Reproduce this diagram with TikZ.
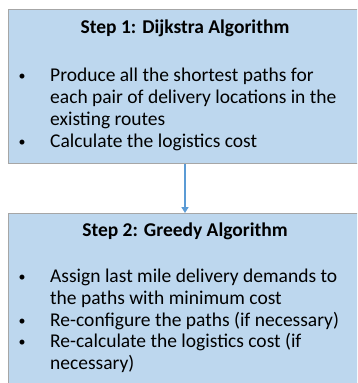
\documentclass[tikz,border=0pt]{standalone}
\usepackage{fontspec}
\setmainfont{Carlito}
\usetikzlibrary{arrows.meta}
\definecolor{boxfill}{HTML}{BDD7EE}
\definecolor{boxline}{HTML}{A6A6A6}
\definecolor{arrowblue}{HTML}{5B9BD5}
\begin{document}
\begin{tikzpicture}[x=1pt,y=-1pt,
  stepbox/.style={draw=boxline, line width=1pt, fill=boxfill, anchor=north west, inner sep=0pt, minimum width=362pt},
  ttl/.style={anchor=base, inner sep=0pt, font=\bfseries\fontsize{19.5}{23}\selectfont},
  txt/.style={anchor=base west, inner sep=0pt, font=\fontsize{19.5}{23}\selectfont},
  bul/.style={anchor=base, inner sep=0pt, font=\fontsize{14}{16}\selectfont},
  flow/.style={draw=arrowblue, line width=2pt, -{Triangle[length=6pt,width=7pt]}}
]
\useasboundingbox (0,0) rectangle (357,383);
\clip (0,0) rectangle (357,383);
\node (box1) [stepbox, minimum height=154pt] at (8,9) {};
\node (box2) [stepbox, minimum height=180pt] at (8,213) {};
% box 1
\node (t1) [ttl] at (185,33) {Step 1: Dijkstra Algorithm};
\node (b11) [bul] at (22,80) {\textbullet};
\node (l11) [txt] at (50,81) {Produce all the shortest paths for};
\node (l12) [txt] at (50,103) {each pair of delivery locations in the};
\node (l13) [txt] at (50,125) {existing routes};
\node (b12) [bul] at (22,146) {\textbullet};
\node (l14) [txt] at (50,147) {Calculate the logistics cost};
% box 2
\node (t2) [ttl] at (185,236) {Step 2: Greedy Algorithm};
\node (b21) [bul] at (22,281) {\textbullet};
\node (l21) [txt] at (50,282) {Assign last mile delivery demands to};
\node (l22) [txt] at (50,304) {the paths with minimum cost};
\node (b22) [bul] at (22,325) {\textbullet};
\node (l23) [txt] at (50,326) {Re-configure the paths (if necessary)};
\node (b23) [bul] at (22,346) {\textbullet};
\node (l24) [txt] at (50,347) {Re-calculate the logistics cost (if};
\node (l25) [txt] at (50,369) {necessary)};
\draw[flow] (t1 |- box1.south) -- (t1 |- box2.north);
\end{tikzpicture}
\end{document}
